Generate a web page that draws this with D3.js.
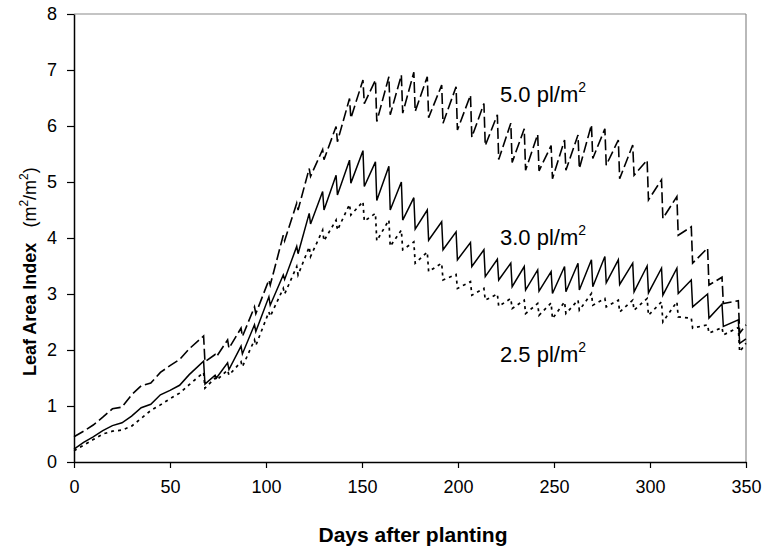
<!DOCTYPE html>
<html>
<head>
<meta charset="utf-8">
<script src="https://cdn.jsdelivr.net/npm/d3@7"></script>
<style>
  html, body { margin: 0; padding: 0; background: #fff; }
  svg { display: block; font-family: "Liberation Sans", Arial, sans-serif; }
</style>
</head>
<body>
<svg id="chart" width="766" height="546"></svg>
<script>
// Leaf area index over the season for three planting densities.
// Smooth early growth, then weekly leaf removal gives the saw-tooth.
const earlyDays = [0, 5, 10, 15, 20, 25, 30, 35, 40, 45, 50, 55, 60];
const toothDays = [67.5, 73.5, 80, 87, 94, 101.5, 109, 116, 122.5, 129.5, 136.5, 143.5,
  150.5, 157, 164, 170.5, 177, 184, 191.5, 199, 206.5, 213.5, 220.5, 227.5, 234.5,
  241.5, 248.5, 255.5, 262.5, 269.5, 276.5, 283.5, 291, 298.5, 306, 314, 321.5,
  330, 337.5, 346];
const endDay = 350;

// 5.0 plants per m2 (dashed)
const dense5Early = [0.45, 0.55, 0.66, 0.80, 0.95, 0.98, 1.20, 1.36, 1.41, 1.60, 1.72, 1.83, 2.02];
const dense5Peak = [2.25, 1.92, 2.18, 2.39, 2.77, 3.25, 4.05, 4.62, 5.24, 5.58, 5.99, 6.49,
  6.82, 6.82, 6.88, 6.91, 6.96, 6.88, 6.73, 6.70, 6.55, 6.40, 6.20, 6.05, 5.95,
  5.85, 5.65, 5.75, 5.84, 6.02, 5.95, 5.75, 5.66, 5.39, 5.04, 4.74, 4.20,
  3.82, 3.30, 2.88];
const dense5Trough = [1.79, 1.88, 2.03, 2.24, 2.65, 3.16, 3.95, 4.50, 5.10, 5.40, 5.72, 6.14,
  6.40, 6.08, 6.20, 6.23, 6.26, 6.15, 6.05, 5.93, 5.80, 5.65, 5.40, 5.35, 5.21,
  5.20, 5.06, 5.21, 5.24, 5.42, 5.30, 5.06, 5.12, 4.68, 4.35, 4.05, 3.55,
  3.16, 2.83, 2.30];
const dense5End = 2.45;

// 3.0 plants per m2 (solid)
const dense3Early = [0.23, 0.35, 0.45, 0.56, 0.65, 0.70, 0.82, 0.97, 1.03, 1.20, 1.28, 1.37, 1.56];
const dense3Peak = [1.80, 1.55, 1.77, 2.07, 2.45, 2.95, 3.34, 3.85, 4.44, 4.83, 5.12, 5.39,
  5.56, 5.36, 5.28, 5.00, 4.72, 4.50, 4.29, 4.11, 3.92, 3.79, 3.62, 3.55, 3.49,
  3.43, 3.40, 3.49, 3.55, 3.61, 3.67, 3.61, 3.55, 3.50, 3.46, 3.46, 3.25,
  3.00, 2.82, 2.54];
const dense3Trough = [1.39, 1.50, 1.65, 1.93, 2.33, 2.80, 3.26, 3.72, 4.25, 4.50, 4.77, 4.98,
  4.92, 4.67, 4.50, 4.32, 4.16, 3.96, 3.79, 3.61, 3.49, 3.31, 3.25, 3.13, 3.07,
  3.05, 3.01, 3.04, 3.07, 3.13, 3.20, 3.17, 3.04, 3.02, 2.98, 3.01, 2.77,
  2.57, 2.42, 2.12];
const dense3End = 2.20;

// 2.5 plants per m2 (dotted)
const dense25Early = [0.20, 0.30, 0.40, 0.50, 0.55, 0.57, 0.64, 0.78, 0.92, 1.02, 1.13, 1.23, 1.38];
const dense25Peak = [1.60, 1.50, 1.64, 1.79, 2.18, 2.68, 3.10, 3.49, 3.84, 4.14, 4.32, 4.60,
  4.65, 4.44, 4.32, 4.14, 3.93, 3.75, 3.55, 3.35, 3.22, 3.10, 3.00, 2.92, 2.89,
  2.83, 2.84, 2.86, 2.89, 3.01, 2.92, 2.89, 2.89, 2.92, 2.86, 2.86, 2.57,
  2.45, 2.40, 2.40];
const dense25Trough = [1.32, 1.46, 1.55, 1.70, 2.08, 2.60, 3.00, 3.34, 3.67, 3.95, 4.14, 4.41,
  4.30, 3.95, 3.85, 3.79, 3.55, 3.40, 3.25, 3.10, 2.98, 2.89, 2.78, 2.74, 2.65,
  2.62, 2.56, 2.65, 2.71, 2.80, 2.77, 2.68, 2.71, 2.62, 2.50, 2.59, 2.39,
  2.30, 2.27, 1.97];
const dense25End = 2.12;

const xTicks = [0, 50, 100, 150, 200, 250, 300, 350];
const yTicks = [0, 1, 2, 3, 4, 5, 6, 7, 8];

const svg = d3.select("#chart");
const x = d3.scaleLinear().domain([0, 350]).range([74, 746]);
const y = d3.scaleLinear().domain([0, 8]).range([462, 14]);

// Turn the arrays into one ordered list of (day, LAI) points
function buildSeries(early, peak, trough, endVal) {
  const pts = earlyDays.map((d, i) => [d, early[i]]);
  toothDays.forEach((d, i) => {
    pts.push([d, peak[i]]);
    pts.push([d + 0.7, trough[i]]);
  });
  pts.push([endDay, endVal]);
  return pts;
}

const series = [
  { pts: buildSeries(dense5Early, dense5Peak, dense5Trough, dense5End), dash: "11,4", width: 1.6 },
  { pts: buildSeries(dense3Early, dense3Peak, dense3Trough, dense3End), dash: null, width: 1.5 },
  { pts: buildSeries(dense25Early, dense25Peak, dense25Trough, dense25End), dash: "3,4", width: 1.7 }
];

// Plot frame: grey top and right edges
svg.append("line").attr("x1", x(0)).attr("x2", x(350)).attr("y1", y(8)).attr("y2", y(8))
  .attr("stroke", "#8a8a8a").attr("stroke-width", 1.2);
svg.append("line").attr("x1", x(350)).attr("x2", x(350)).attr("y1", y(8)).attr("y2", y(0))
  .attr("stroke", "#8a8a8a").attr("stroke-width", 1.2);

const line = d3.line().x(d => x(d[0])).y(d => y(d[1]));
svg.append("g").selectAll("path").data(series).join("path")
  .attr("d", d => line(d.pts))
  .attr("fill", "none")
  .attr("stroke", "#000")
  .attr("stroke-width", d => d.width)
  .attr("stroke-dasharray", d => d.dash)
  .attr("stroke-linejoin", "miter");

// Axes
const xAxis = svg.append("g").attr("transform", `translate(0,${y(0)})`)
  .call(d3.axisBottom(x).tickValues(xTicks).tickSize(6).tickSizeOuter(0).tickPadding(12));
const yAxis = svg.append("g").attr("transform", `translate(${x(0)},0)`)
  .call(d3.axisLeft(y).tickValues(yTicks).tickSize(7).tickSizeOuter(0).tickPadding(10));
[xAxis, yAxis].forEach(g => {
  g.select(".domain").attr("stroke", "#000").attr("stroke-width", 1.5);
  g.selectAll(".tick line").attr("stroke", "#000").attr("stroke-width", 1.2);
  g.selectAll(".tick text").attr("font-size", 18).attr("fill", "#000")
    .attr("font-family", "Liberation Sans, Arial, sans-serif");
});

// Axis titles
svg.append("text").attr("x", 413).attr("y", 542).attr("text-anchor", "middle")
  .attr("font-size", 21).attr("font-weight", "bold").text("Days after planting");

const yTitle = svg.append("text")
  .attr("transform", "translate(36,376) rotate(-90)")
  .attr("font-size", 18);
yTitle.append("tspan").attr("font-weight", "bold").text("Leaf Area Index");
yTitle.append("tspan").attr("dx", 15).text("(m");
yTitle.append("tspan").attr("font-size", 12).attr("dy", -8).text("2");
yTitle.append("tspan").attr("dy", 8).text("/m");
yTitle.append("tspan").attr("font-size", 12).attr("dy", -8).text("2");
yTitle.append("tspan").attr("dy", 8).text(")");

// Density labels beside the curves
const densityLabels = [
  { text: "5.0 pl/m", at: 102 },
  { text: "3.0 pl/m", at: 245 },
  { text: "2.5 pl/m", at: 362 }
];
densityLabels.forEach(l => {
  const t = svg.append("text").attr("x", 500).attr("y", l.at).attr("font-size", 22);
  t.append("tspan").text(l.text);
  t.append("tspan").attr("font-size", 14).attr("dy", -10).text("2");
});
</script>
</body>
</html>
